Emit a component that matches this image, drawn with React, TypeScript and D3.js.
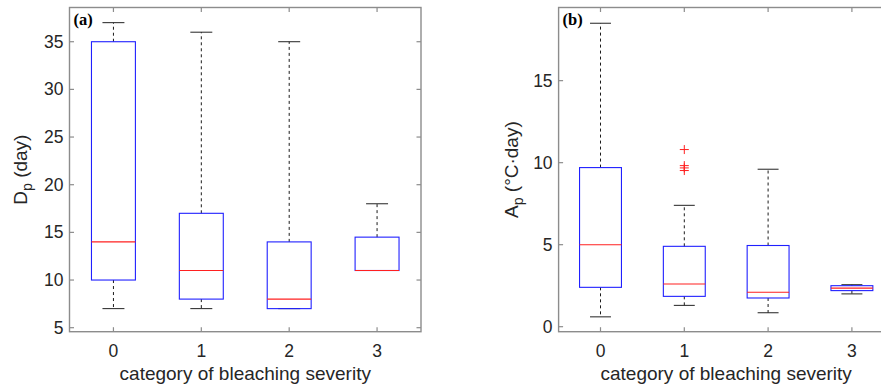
import React from "react";
import * as d3 from "d3";

const categories = ["0", "1", "2", "3"];

// Panel (a): Dp (day)
const dpMin = [7, 7, 7, 11];
const dpQ1 = [10, 8, 7, 11];
const dpMed = [14, 11, 8, 11];
const dpQ3 = [35, 17, 14, 14.5];
const dpMax = [37, 36, 35, 18];
const dpOutliers: number[][] = [[], [], [], []];
const dpTicks = [5, 10, 15, 20, 25, 30, 35];

// Panel (b): Ap (°C·day)
const apMin = [0.6, 1.3, 0.85, 2.0];
const apQ1 = [2.4, 1.85, 1.75, 2.2];
const apMed = [5.0, 2.6, 2.1, 2.35];
const apQ3 = [9.7, 4.9, 4.95, 2.5];
const apMax = [18.5, 7.4, 9.6, 2.56];
const apOutliers: number[][] = [[], [10.8, 9.82, 9.68, 9.52], [], []];
const apTicks = [0, 5, 10, 15];

const FONT = "'Liberation Sans', Arial, Helvetica, sans-serif";
const TEXT = "#262626";
const FRAME = "#8c8c8c";

type PanelProps = {
  left: number;
  right: number;
  top: number;
  bottom: number;
  yDomain: [number, number];
  ticks: number[];
  mins: number[];
  q1: number[];
  med: number[];
  q3: number[];
  maxs: number[];
  outliers: number[][];
  letter: string;
  yMain: string;
  ySub: string;
  yRest: string;
  yLabelX: number;
};

function Panel(p: PanelProps) {
  const x = d3.scaleLinear().domain([0.5, categories.length + 0.5]).range([p.left, p.right]);
  const y = d3.scaleLinear().domain(p.yDomain).range([p.bottom, p.top]);
  const unit = x(1) - x(0);
  const boxW = unit * 0.5;
  const capW = unit * 0.25;
  const tl = 4.5;
  const cx = (p.left + p.right) / 2;
  const cy = (p.top + p.bottom) / 2;
  return (
    <g>
      {/* whiskers */}
      {categories.map((c, i) => {
        const xc = x(i + 1);
        return (
          <g key={"w" + c}>
            <line x1={xc} x2={xc} y1={y(p.q3[i])} y2={y(p.maxs[i])} stroke="#000" strokeWidth={0.9} strokeDasharray="3,3" />
            <line x1={xc} x2={xc} y1={y(p.q1[i])} y2={y(p.mins[i])} stroke="#000" strokeWidth={0.9} strokeDasharray="3,3" />
            <line x1={xc - capW / 2} x2={xc + capW / 2} y1={y(p.maxs[i])} y2={y(p.maxs[i])} stroke="#222" strokeWidth={1} />
            <line x1={xc - capW / 2} x2={xc + capW / 2} y1={y(p.mins[i])} y2={y(p.mins[i])} stroke="#222" strokeWidth={1} />
          </g>
        );
      })}
      {/* boxes */}
      {categories.map((c, i) => {
        const xc = x(i + 1);
        return (
          <g key={"b" + c}>
            <rect x={xc - boxW / 2} y={y(p.q3[i])} width={boxW} height={Math.max(0, y(p.q1[i]) - y(p.q3[i]))} fill="none" stroke="#2020ff" strokeWidth={1.1} />
            <line x1={xc - boxW / 2} x2={xc + boxW / 2} y1={y(p.med[i])} y2={y(p.med[i])} stroke="#ff2020" strokeWidth={1.1} />
            {p.outliers[i].map((v, j) => (
              <path key={j} d={`M${xc - 4.5},${y(v)}H${xc + 4.5}M${xc},${y(v) - 4.5}V${y(v) + 4.5}`} stroke="#ff2020" strokeWidth={1} fill="none" />
            ))}
          </g>
        );
      })}
      {/* frame */}
      <rect x={p.left} y={p.top} width={p.right - p.left} height={p.bottom - p.top} fill="none" stroke={FRAME} strokeWidth={1.4} />
      {/* y ticks */}
      {p.ticks.map((t) => (
        <g key={"yt" + t}>
          <line x1={p.left} x2={p.left + tl} y1={y(t)} y2={y(t)} stroke={FRAME} strokeWidth={1.2} />
          <line x1={p.right} x2={p.right - tl} y1={y(t)} y2={y(t)} stroke={FRAME} strokeWidth={1.2} />
          <text x={p.left - 6} y={y(t) + 6} textAnchor="end" fontFamily={FONT} fontSize={17.5} fill={TEXT}>
            {t}
          </text>
        </g>
      ))}
      {/* x ticks */}
      {categories.map((c, i) => (
        <g key={"xt" + c}>
          <line x1={x(i + 1)} x2={x(i + 1)} y1={p.bottom} y2={p.bottom - tl} stroke={FRAME} strokeWidth={1.2} />
          <line x1={x(i + 1)} x2={x(i + 1)} y1={p.top} y2={p.top + tl} stroke={FRAME} strokeWidth={1.2} />
          <text x={x(i + 1)} y={357} textAnchor="middle" fontFamily={FONT} fontSize={17.5} fill={TEXT}>
            {c}
          </text>
        </g>
      ))}
      <text x={cx} y={380} textAnchor="middle" fontFamily={FONT} fontSize={19} fill={TEXT}>
        category of bleaching severity
      </text>
      <text transform={`translate(${p.yLabelX},${cy}) rotate(-90)`} textAnchor="middle" fontFamily={FONT} fontSize={19} fill={TEXT}>
        {p.yMain}
        <tspan fontSize={14} dy={5}>{p.ySub}</tspan>
        <tspan dy={-5}>{p.yRest}</tspan>
      </text>
      <text x={p.left + 4} y={25} fontFamily="'Liberation Serif', 'Times New Roman', serif" fontWeight="bold" fontSize={16.5} fill="#000">
        {p.letter}
      </text>
    </g>
  );
}

export default function App() {
  return (
    <svg width={881} height={391} style={{ display: "block", position: "absolute", left: 0, top: 0, background: "#fff" }}>
      <rect x={0} y={0} width={881} height={391} fill="#fff" />
      <Panel
        left={69.5}
        right={421}
        top={7.5}
        bottom={331.7}
        yDomain={[4.58, 38.59]}
        ticks={dpTicks}
        mins={dpMin}
        q1={dpQ1}
        med={dpMed}
        q3={dpQ3}
        maxs={dpMax}
        outliers={dpOutliers}
        letter="(a)"
        yMain="D"
        ySub="p"
        yRest=" (day)"
        yLabelX={26.5}
      />
      <Panel
        left={558.6}
        right={893.8}
        top={7.5}
        bottom={331.7}
        yDomain={[-0.305, 19.46]}
        ticks={apTicks}
        mins={apMin}
        q1={apQ1}
        med={apMed}
        q3={apQ3}
        maxs={apMax}
        outliers={apOutliers}
        letter="(b)"
        yMain="A"
        ySub="p"
        yRest=" (°C·day)"
        yLabelX={517.5}
      />
    </svg>
  );
}
